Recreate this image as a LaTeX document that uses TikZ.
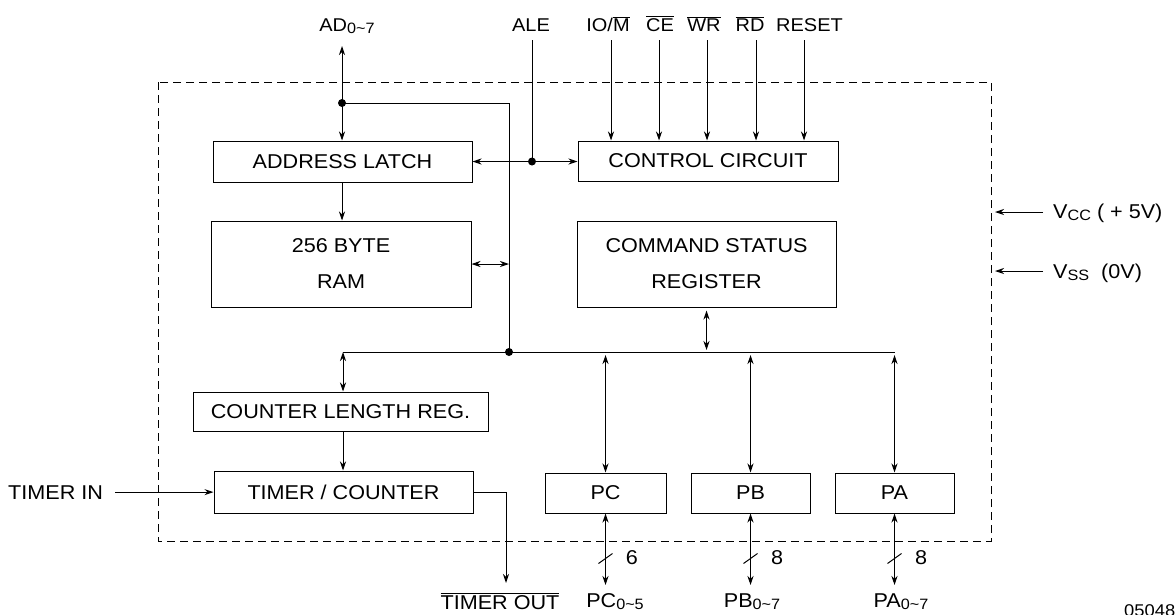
\documentclass[tikz,border=0pt]{standalone}
\usepackage{fontspec}
\setmainfont[FakeStretch=1.08]{Liberation Sans}
\usetikzlibrary{arrows.meta}
\newcommand\sbs[1]{\raisebox{-0.14em}{\fontsize{15}{15}\selectfont #1}}
\newcommand\tld{\textasciitilde}
\newcommand\ovl[1]{$\overline{\mbox{#1}}$}
\tikzset{
  blk/.style={draw, line width=1pt, inner sep=0pt, font=\fontsize{20}{36}\selectfont, align=center},
  lbl/.style={inner sep=0pt, font=\fontsize{20}{24}\selectfont, anchor=base},
  toplbl/.style={lbl, font=\fontsize{18.5}{22}\selectfont},
  wire/.style={line width=1pt},
  arr/.style={wire, -{Stealth[length=9pt,width=6pt]}},
  darr/.style={wire, {Stealth[length=9pt,width=6pt]}-{Stealth[length=9pt,width=6pt]}},
  dot/.style={circle, fill, inner sep=0pt, minimum size=8pt},
}
\begin{document}
\begin{tikzpicture}[x=1pt, y=-1pt]
\useasboundingbox (0,0) rectangle (1176,614);
% chip outline
\draw[line width=1pt, dash pattern=on 8pt off 5pt] (158,82) rectangle (991,541);

% blocks
\node[blk, minimum width=259pt, minimum height=41pt] (latch) at (342.5,161.5) {ADDRESS LATCH};
\node[blk, minimum width=260pt, minimum height=40pt] (ctrl) at (708,161) {CONTROL CIRCUIT};
\node[blk, minimum width=260pt, minimum height=86pt] (ram) at (341,264) {256 BYTE\\RAM};
\node[blk, minimum width=259pt, minimum height=86pt] (csr) at (706.5,264) {COMMAND STATUS\\REGISTER};
\node[blk, minimum width=295pt, minimum height=39pt] (clr) at (340.5,411.5) {COUNTER LENGTH REG.};
\node[blk, minimum width=259pt, minimum height=42pt] (tc) at (343.5,492) {TIMER / COUNTER};
\node[blk, minimum width=121pt, minimum height=40pt] (pc) at (605.5,493) {PC};
\node[blk, minimum width=119pt, minimum height=40pt] (pb) at (750.5,493) {PB};
\node[blk, minimum width=119pt, minimum height=40pt] (pa) at (894.5,493) {PA};

% top labels
\node[toplbl] (lad) at (347,31) {AD\sbs{0\tld 7}};
\node[toplbl] (lale) at (531,31) {ALE};
\node[toplbl] (liom) at (608,31) {IO/\ovl{M}};
\node[toplbl] (lce) at (660,31) {\ovl{CE}};
\node[toplbl] (lwr) at (704,31) {\ovl{WR}};
\node[toplbl] (lrd) at (750,31) {\ovl{RD}};
\node[toplbl] (lrst) at (809.5,31) {RESET};

% coordinates
\coordinate (adtop) at (342,46);
\coordinate (addot) at (342,103);
\coordinate (aletop) at (532,40);
\coordinate (aledot) at (532,161.5);
\coordinate (busdot) at (509,352);
\coordinate (busL) at (343,352);
\coordinate (busR) at (895,352);
\coordinate (s1) at (611,40);
\coordinate (s2) at (659,40);
\coordinate (s3) at (707,40);
\coordinate (s4) at (756,40);
\coordinate (s5) at (804,40);

% address / data
\draw[darr] (adtop) -- (latch.north -| adtop);
\draw[wire] (addot) -| (busdot);
\draw[wire] (aletop) -- (aledot);
\draw[darr] (latch.east) -- (latch.east -| ctrl.west);
\foreach \s in {s1,s2,s3,s4,s5} \draw[arr] (\s) -- (\s |- ctrl.north);
\draw[arr] (latch.south -| adtop) -- (ram.north -| adtop);
\draw[darr] (ram.east) -- (ram.east -| busdot);
\draw[wire] (busL) -- (busR);
\draw[darr] ([yshift=-3pt]csr.south) -- ([yshift=2pt]csr.south |- busL);
\draw[darr] (busL) -- (busL |- clr.north);
\draw[arr] (clr.south -| busL) -- (tc.north -| busL);

% ports
\foreach \p in {pc,pb,pa} \draw[darr] ([yshift=-3pt]busL -| \p) -- (\p.north);
\coordinate (pcb) at (605.5,585);
\coordinate (pbb) at (750.5,585);
\coordinate (pab) at (894.5,585);
\draw[darr] (pc.south) -- (pcb);
\draw[darr] (pb.south) -- (pbb);
\draw[darr] (pa.south) -- (pab);
\foreach \p in {pc,pb,pa} \draw[wire] ([xshift=-7pt,yshift=-50pt]\p.south) -- ++(14,-10);
\node[lbl] (n6) at (632,564) {6};
\node[lbl] (n8b) at (777,564) {8};
\node[lbl] (n8a) at (921,564) {8};
\node[lbl] (lpc) at (615,607) {PC\sbs{0\tld 5}};
\node[lbl] (lpb) at (752,607) {PB\sbs{0\tld 7}};
\node[lbl] (lpa) at (901,607) {PA\sbs{0\tld 7}};

% timer
\node[lbl, anchor=base west] (tin) at (8,499) {TIMER IN};
\draw[arr] ([xshift=12pt]tin.east) -- (tin.east -| tc.west);
\node[lbl] (tout) at (500,609) {\ovl{TIMER OUT}};
\coordinate (toutp) at (506,583);
\draw[arr] (tc.east) -| (toutp);

% power
\node[lbl, anchor=base west] (vcc) at (1053,218) {V\sbs{CC} ( + 5V)};
\node[lbl, anchor=base west] (vss) at (1053,278) {V\sbs{SS}\ \ (0V)};
\coordinate (vccs) at (1043,212);
\coordinate (vcce) at (995,212);
\coordinate (vsss) at (1043,271);
\coordinate (vsse) at (995,271);
\draw[arr] (vccs) -- (vcce);
\draw[arr] (vsss) -- (vsse);

% dots
\node[dot] (d1) at (addot) {};
\node[dot] (d2) at (aledot) {};
\node[dot] (d3) at (busdot) {};

\node[inner sep=0pt, anchor=north west, font=\fontsize{17}{17}\selectfont] (code) at (1124,604) {050489};
\end{tikzpicture}
\end{document}
